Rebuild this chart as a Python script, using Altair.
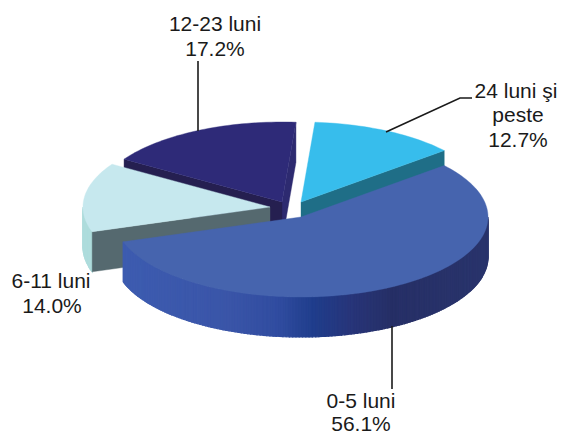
import math
import altair as alt
import pandas as pd

# chart values
categories = ["0-5 luni", "24 luni şi peste", "12-23 luni", "6-11 luni"]
shares = [56.1, 12.7, 17.2, 14.0]
first_edge_deg = 40.0

# look of the tilted pie
RX, RY, DEPTH = 187, 80, 40
apex = {"0-5 luni": (301, 217), "24 luni şi peste": (301, 202),
        "12-23 luni": (282, 202), "6-11 luni": (270, 207)}
top_colors = {"0-5 luni": "#4664ae", "24 luni şi peste": "#37bdec",
              "12-23 luni": "#2e2a78", "6-11 luni": "#c6e8ee"}
wall_stops = [(122, "#3d5cb0"), (230, "#3a55a8"), (280, "#304ca0"), (315, "#1f3d8b"),
              (350, "#27357a"), (392, "#262f66"), (488, "#29346c")]

label_rows = [
    ("12-23 luni", 215, 25), ("17.2%", 215, 50),
    ("24 luni şi", 516, 92), ("peste", 518, 116), ("12.7%", 518, 141),
    ("6-11 luni", 51, 282), ("14.0%", 52, 307),
    ("0-5 luni", 361, 402), ("56.1%", 361, 425),
]
leaders = [
    [(198, 61), (198, 131)],
    [(472, 98), (460, 98), (386, 132)],
    [(392, 326), (392, 389)],
]

X = alt.X("x:Q", scale=alt.Scale(domain=[8, 558], nice=False, zero=False), axis=None)
Y = alt.Y("y:Q", scale=alt.Scale(domain=[437, 8], nice=False, zero=False), axis=None)


def hex_mix(a, b, t):
    ca = [int(a[i:i + 2], 16) for i in (1, 3, 5)]
    cb = [int(b[i:i + 2], 16) for i in (1, 3, 5)]
    return "#" + "".join(f"{round(p + (q - p) * t):02x}" for p, q in zip(ca, cb))


def wall_color(x):
    for (x0, c0), (x1, c1) in zip(wall_stops, wall_stops[1:]):
        if x <= x1:
            return hex_mix(c0, c1, max(0, (x - x0) / (x1 - x0)))
    return wall_stops[-1][1]


def rim(cat, a0, a1, step=1.5):
    cx, cy = apex[cat]
    n = max(2, int(abs(a1 - a0) / step))
    return [(cx + RX * math.cos(math.radians(a0 + (a1 - a0) * i / n)),
             cy - RY * math.sin(math.radians(a0 + (a1 - a0) * i / n))) for i in range(n + 1)]


def poly(points, color):
    closed = list(points) + [points[0]]
    df = pd.DataFrame({"x": [p[0] for p in closed], "y": [p[1] for p in closed],
                       "i": range(len(closed))})
    return alt.Chart(df).mark_line(fill=color, stroke=color, strokeWidth=0.4).encode(
        x=X, y=Y, order=alt.Order("i:Q"))


def edge_wall(cat, a, color):
    cx, cy = apex[cat]
    px, py = rim(cat, a, a + 1)[0]
    return poly([(cx, cy), (px, py), (px, py + DEPTH), (cx, cy + DEPTH)], color)


def outer_wall(cat, a0, a1, color_fn):
    rows = []
    pts = rim(cat, a0, a1, 1.0)
    for k, (p, q) in enumerate(zip(pts, pts[1:])):
        c = color_fn((p[0] + q[0]) / 2)
        quad = [p, q, (q[0], q[1] + DEPTH), (p[0], p[1] + DEPTH), p]
        for i, (x, y) in enumerate(quad):
            rows.append({"x": x, "y": y, "i": i, "s": f"{k:04d}", "c": c})
    return alt.Chart(pd.DataFrame(rows)).mark_line(strokeWidth=1.2).encode(
        x=X, y=Y, order=alt.Order("i:Q"), detail="s:N",
        fill=alt.Fill("c:N", scale=None), stroke=alt.Stroke("c:N", scale=None))


# sweep of each slice, clockwise for the big one and counter-clockwise for the rest
spans = {}
big = shares[0] * 3.6
spans["0-5 luni"] = (first_edge_deg, first_edge_deg - big)
a = first_edge_deg
for cat, s in zip(categories[1:], shares[1:]):
    spans[cat] = (a, a + s * 3.6)
    a += s * 3.6


def top(cat):
    return poly([apex[cat]] + rim(cat, *spans[cat]), top_colors[cat])


layers = [
    edge_wall("12-23 luni", spans["12-23 luni"][0], "#2d2a70"),
    edge_wall("12-23 luni", spans["12-23 luni"][1], "#251f50"),
    top("12-23 luni"),
    outer_wall("6-11 luni", 180, spans["6-11 luni"][1], lambda x: "#aedcdc"),
    edge_wall("6-11 luni", spans["6-11 luni"][1], "#55696f"),
    top("6-11 luni"),
    edge_wall("24 luni şi peste", spans["24 luni şi peste"][0], "#1f6e87"),
    top("24 luni şi peste"),
    outer_wall("0-5 luni", spans["0-5 luni"][1], 0, wall_color),
    top("0-5 luni"),
]

for k, pts in enumerate(leaders):
    df = pd.DataFrame({"x": [p[0] for p in pts], "y": [p[1] for p in pts], "i": range(len(pts))})
    layers.append(alt.Chart(df).mark_line(color="#1a1a1a", strokeWidth=1.6).encode(
        x=X, y=Y, order=alt.Order("i:Q")))

text_df = pd.DataFrame(label_rows, columns=["t", "x", "y"])
layers.append(alt.Chart(text_df).mark_text(
    font="Liberation Sans", fontSize=21, color="#1a1a1a", baseline="middle", align="center"
).encode(x=X, y=Y, text="t:N"))

chart = alt.layer(*layers).properties(
    width=550, height=429, padding=0, background="white",
    autosize=alt.AutoSizeParams(type="none"),
).configure_view(stroke=None)

chart.save("out.html", embed_options={"renderer": "svg", "actions": False})
